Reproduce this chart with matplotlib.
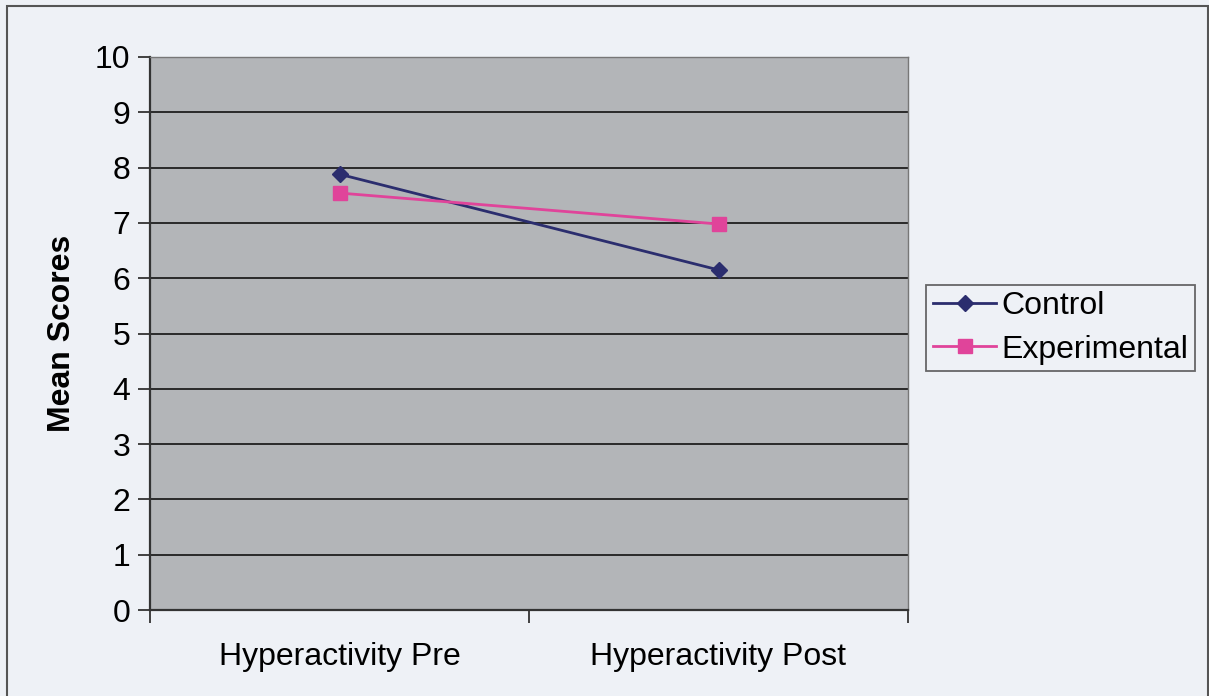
import matplotlib
matplotlib.use('Agg')
import matplotlib.pyplot as plt
from matplotlib.patches import Rectangle

# Mean scores per phase
phases = ['Hyperactivity Pre', 'Hyperactivity Post']
control = [7.88, 6.15]
experimental = [7.54, 6.98]

plt.rcParams['font.family'] = ['Liberation Sans', 'DejaVu Sans']

fig = plt.figure(figsize=(12.09, 6.96), dpi=100, facecolor='#eef1f6')
ax = fig.add_axes([150 / 1209, 1 - 610 / 696, 758 / 1209, 553 / 696])
ax.set_facecolor('#b3b5b8')

# outer chart frame
fig.patches.append(Rectangle((7 / 1209, -0.05), 1201 / 1209, 1.05 - 6 / 696,
                             transform=fig.transFigure, fill=False,
                             edgecolor='#555555', linewidth=1.5))

x = list(range(len(phases)))
ax.plot(x, control, color='#2b2d6e', marker='D', markersize=8, linewidth=2,
        label='Control', zorder=3)
ax.plot(x, experimental, color='#e0449a', marker='s', markersize=10,
        linewidth=2, label='Experimental', zorder=3)

ax.set_xlim(-0.5, len(phases) - 0.5)
ax.set_ylim(0, 10)
ax.set_yticks(range(0, 11))
ax.yaxis.grid(True, color='#2a2a2a', linewidth=1.4)
ax.set_axisbelow(True)

ax.set_xticks(x)
ax.set_xticklabels(phases, fontsize=23)
ax.set_xticks([i - 0.5 for i in range(len(phases) + 1)], minor=True)
ax.tick_params(axis='x', which='major', length=0, pad=23)
ax.tick_params(axis='x', which='minor', length=9, width=1.3, color='#333333',
               direction='out')
ax.tick_params(axis='y', length=9, width=1.3, color='#333333', labelsize=23,
               pad=5)

for side in ['left', 'bottom']:
    ax.spines[side].set_color('#333333')
    ax.spines[side].set_linewidth(1.6)
for side in ['top', 'right']:
    ax.spines[side].set_color('#777777')
    ax.spines[side].set_linewidth(1.0)

ax.set_ylabel('Mean Scores', fontsize=23, fontweight='bold', labelpad=13)

leg = ax.legend(loc='center left', bbox_to_anchor=(1.024, 0.51), fontsize=23,
                frameon=True, fancybox=False, handlelength=2.0,
                handletextpad=0.15, borderpad=0.2, labelspacing=0.42,
                borderaxespad=0)
leg.get_frame().set_facecolor('#eef1f6')
leg.get_frame().set_edgecolor('#444444')
leg.get_frame().set_linewidth(1.3)

fig.savefig('out.png', dpi=100, facecolor=fig.get_facecolor())
